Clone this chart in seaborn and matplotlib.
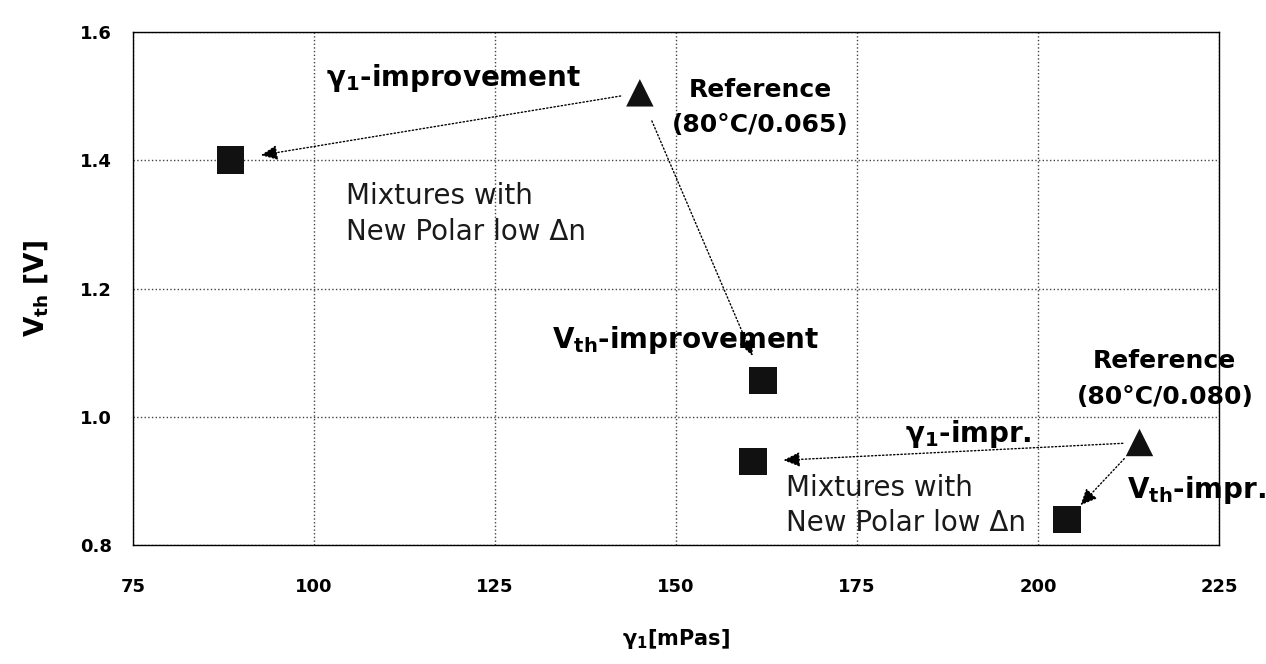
import matplotlib
matplotlib.use("Agg")
import pandas as pd
import matplotlib.pyplot as plt
import seaborn as sns

# values
ref_x = [145.0, 214.0]
ref_y = [1.505, 0.96]
mix_x = [88.5, 162.0, 160.6, 204.0]
mix_y = [1.40, 1.057, 0.93, 0.84]
x_ticks = [75, 100, 125, 150, 175, 200, 225]
y_ticks = [0.8, 1.0, 1.2, 1.4, 1.6]

df = pd.concat(
    [
        pd.DataFrame({"x": ref_x, "y": ref_y, "kind": "Reference"}),
        pd.DataFrame({"x": mix_x, "y": mix_y, "kind": "Mixture"}),
    ],
    ignore_index=True,
)

sns.set_style("white")
plt.rcParams["font.family"] = ["DejaVu Sans"]
plt.rcParams["text.color"] = "black"
plt.rcParams["axes.labelcolor"] = "black"
plt.rcParams["xtick.color"] = "black"
plt.rcParams["ytick.color"] = "black"
plt.rcParams["mathtext.fontset"] = "dejavusans"
plt.rcParams["mathtext.default"] = "bf"

fig = plt.figure(figsize=(12.66, 6.64), dpi=100)
ax = fig.add_axes([0.105, 0.179, 0.858, 0.773])

sns.scatterplot(
    data=df, x="x", y="y", style="kind",
    markers={"Reference": "^", "Mixture": "s"},
    color="#111111", s=390, edgecolor="none", linewidth=0,
    legend=False, ax=ax, zorder=3,
)

ax.set_xlim(75, 225)
ax.set_ylim(0.8, 1.6)
ax.set_xticks(x_ticks)
ax.set_yticks(y_ticks)
ax.set_yticklabels([f"{v:.1f}" for v in y_ticks])
ax.tick_params(axis="both", length=0, labelsize=13)
ax.tick_params(axis="x", pad=24)
ax.tick_params(axis="y", pad=15)
for lab in ax.get_xticklabels() + ax.get_yticklabels():
    lab.set_fontweight("bold")
ax.grid(True, linestyle=":", color="#444444", linewidth=1.0)
for sp in ax.spines.values():
    sp.set_color("black")
    sp.set_linewidth(1.0)

ax.set_xlabel("γ${}_1$[mPas]", fontsize=15, fontweight="bold", labelpad=22)
ax.set_ylabel("V${}_{th}$ [V]", fontsize=19, fontweight="bold", labelpad=22)

# arrows: reference -> improved mixtures
arrow_kw = dict(arrowstyle="-|>,head_length=1.0,head_width=0.45",
                color="black", lw=1.0, ls=":")
pairs = [(0, 0, 14, 22), (0, 1, 22, 19), (1, 2, 12, 22), (1, 3, 16, 14)]
for r, m, sa, sb in pairs:
    ax.annotate(
        "", xy=(mix_x[m], mix_y[m]), xytext=(ref_x[r], ref_y[r]),
        arrowprops=dict(arrow_kw, shrinkA=sa, shrinkB=sb), zorder=2,
    )

big = dict(fontsize=20, fontweight="bold", va="baseline", ha="left")
ref = dict(fontsize=18, fontweight="bold", va="center", ha="center", linespacing=1.6)
mix = dict(fontsize=20, va="center", ha="left", linespacing=1.35, color="#1a1a1a")

ax.text(101.7, 1.516, "γ${}_1$-improvement", **big)
ax.text(161.6, 1.482, "Reference\n(80°C/0.065)", **ref)
ax.text(104.4, 1.316, "Mixtures with\nNew Polar low Δn", **mix)
ax.text(132.9, 1.107, "V${}_{th}$-improvement", **big)
ax.text(217.5, 1.059, "Reference\n(80°C/0.080)", **ref)
ax.text(181.6, 0.960, "γ${}_1$-impr.", **big)
ax.text(165.2, 0.862, "Mixtures with\nNew Polar low Δn", **mix)
ax.text(212.3, 0.873, "V${}_{th}$-impr.", **big)

fig.savefig("out.png", dpi=100)
